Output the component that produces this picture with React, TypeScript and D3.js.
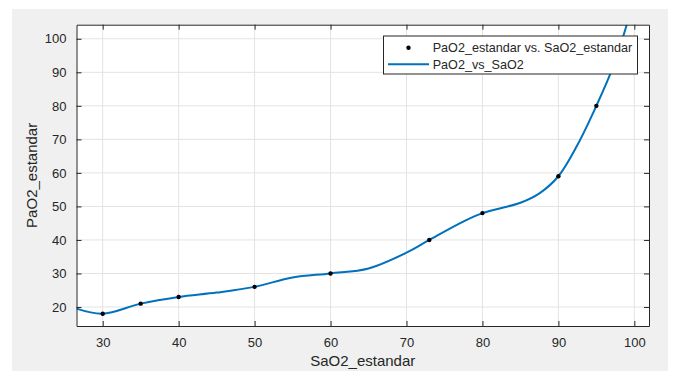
import React, { useRef, useEffect } from 'react';
import * as d3 from 'd3';

// measured points
const sao2 = [30, 35, 40, 50, 60, 73, 80, 90, 95];
const pao2 = [18, 21, 23, 26, 30, 40, 48, 59, 80];

// fitted curve (incl. the extrapolated ends)
const fitSaO2 = [26.55, 30, 35, 40, 45, 50, 55, 60, 65, 70, 73, 77.4, 80, 85, 87.5, 90, 92.5, 95, 97.2, 99.0];
const fitPaO2 = [19.5, 18, 21, 23, 24.3, 26, 28.8, 30, 31.5, 36.2, 40, 45.4, 48, 51.1, 53.9, 59, 68.3, 80, 91.6, 104.2];

const xTicks = [30, 40, 50, 60, 70, 80, 90, 100];
const yTicks = [20, 30, 40, 50, 60, 70, 80, 90, 100];
const legendLabels = ['PaO2_estandar vs. SaO2_estandar', 'PaO2_vs_SaO2'];

const colors = {
  figure: '#f0f0f0',
  axis: '#262626',
  grid: '#e3e3e3',
  line: '#0072bd',
  marker: '#000000',
};

const App: React.FC = () => {
  const svgRef = useRef<SVGSVGElement>(null);
  const width = 675;
  const height = 371;
  const margin = { top: 24.7, right: 26, bottom: 45, left: 76.5 };

  useEffect(() => {
    if (!svgRef.current) return;
    const svg = d3.select(svgRef.current);
    svg.selectAll('*').remove();

    const innerWidth = width - margin.left - margin.right;
    const innerHeight = height - margin.top - margin.bottom;
    const font = 'Liberation Sans, Arial, Helvetica, sans-serif';

    // figure background
    svg.append('rect')
      .attr('x', 12).attr('y', 9)
      .attr('width', 656).attr('height', 362)
      .attr('fill', colors.figure);

    const g = svg.append('g').attr('transform', `translate(${margin.left},${margin.top})`);

    const x = d3.scaleLinear().domain([26.55, 101.93]).range([0, innerWidth]);
    const y = d3.scaleLinear().domain([14.33, 104.2]).range([innerHeight, 0]);

    g.append('rect')
      .attr('width', innerWidth).attr('height', innerHeight)
      .attr('fill', '#ffffff');

    // grid
    g.append('g')
      .selectAll('line')
      .data(xTicks)
      .enter()
      .append('line')
      .attr('x1', d => x(d)).attr('x2', d => x(d))
      .attr('y1', 0).attr('y2', innerHeight)
      .attr('stroke', colors.grid).attr('stroke-width', 1);

    g.append('g')
      .selectAll('line')
      .data(yTicks)
      .enter()
      .append('line')
      .attr('x1', 0).attr('x2', innerWidth)
      .attr('y1', d => y(d)).attr('y2', d => y(d))
      .attr('stroke', colors.grid).attr('stroke-width', 1);

    // clip for the curve
    svg.append('defs').append('clipPath').attr('id', 'plot-clip')
      .append('rect').attr('width', innerWidth).attr('height', innerHeight);

    const fit = fitSaO2.map((v, i) => ({ x: v, y: fitPaO2[i] }));
    const line = d3.line<{ x: number; y: number }>()
      .x(d => x(d.x))
      .y(d => y(d.y))
      .curve(d3.curveCatmullRom.alpha(0.5));

    g.append('path')
      .datum(fit)
      .attr('clip-path', 'url(#plot-clip)')
      .attr('fill', 'none')
      .attr('stroke', colors.line)
      .attr('stroke-width', 2)
      .attr('d', line);

    g.selectAll('.pt')
      .data(sao2)
      .enter()
      .append('circle')
      .attr('cx', d => x(d))
      .attr('cy', (d, i) => y(pao2[i]))
      .attr('r', 2.2)
      .attr('fill', colors.marker);

    // axes (inward ticks, box)
    const styleAxis = (sel: d3.Selection<SVGGElement, unknown, null, undefined>) => {
      sel.select('.domain').attr('stroke', colors.axis);
      sel.selectAll('.tick line').attr('stroke', colors.axis);
      sel.selectAll('text')
        .attr('font-family', font)
        .attr('font-size', '13px')
        .attr('fill', colors.axis);
    };

    g.append('g')
      .attr('transform', `translate(0,${innerHeight})`)
      .call(d3.axisBottom(x).tickValues(xTicks).tickSize(-5).tickPadding(12).tickSizeOuter(0))
      .call(styleAxis);

    g.append('g')
      .call(d3.axisTop(x).tickValues(xTicks).tickSize(-5).tickSizeOuter(0).tickFormat(() => ''))
      .call(styleAxis);

    g.append('g')
      .call(d3.axisLeft(y).tickValues(yTicks).tickSize(-5).tickPadding(10).tickSizeOuter(0))
      .call(styleAxis);

    g.append('g')
      .attr('transform', `translate(${innerWidth},0)`)
      .call(d3.axisRight(y).tickValues(yTicks).tickSize(-5).tickSizeOuter(0).tickFormat(() => ''))
      .call(styleAxis);

    // axis labels
    g.append('text')
      .attr('x', innerWidth / 2)
      .attr('y', innerHeight + 40.5)
      .attr('text-anchor', 'middle')
      .attr('font-family', font)
      .attr('font-size', '15px')
      .attr('fill', colors.axis)
      .text('SaO2_estandar');

    g.append('text')
      .attr('transform', 'rotate(-90)')
      .attr('x', -innerHeight / 2)
      .attr('y', -40)
      .attr('text-anchor', 'middle')
      .attr('font-family', font)
      .attr('font-size', '15px')
      .attr('fill', colors.axis)
      .text('PaO2_estandar');

    // legend
    const lg = svg.append('g').attr('transform', 'translate(383.5,36)');
    lg.append('rect')
      .attr('width', 254).attr('height', 38)
      .attr('fill', '#ffffff')
      .attr('stroke', colors.axis).attr('stroke-width', 1);
    lg.append('circle').attr('cx', 25).attr('cy', 11.7).attr('r', 2.2).attr('fill', colors.marker);
    lg.append('line')
      .attr('x1', 4.5).attr('x2', 45.5).attr('y1', 28.3).attr('y2', 28.3)
      .attr('stroke', colors.line).attr('stroke-width', 2);
    lg.selectAll('.lt')
      .data(legendLabels)
      .enter()
      .append('text')
      .attr('x', 49.2)
      .attr('y', (d, i) => 16.2 + i * 16.6)
      .attr('font-family', font)
      .attr('font-size', '12.6px')
      .attr('fill', colors.axis)
      .text(d => d);
  }, []);

  return (
    <div style={{ position: 'absolute', left: 0, top: 0, background: '#ffffff' }}>
      <svg ref={svgRef} width={width} height={height} style={{ display: 'block' }} />
    </div>
  );
};

export default App;
